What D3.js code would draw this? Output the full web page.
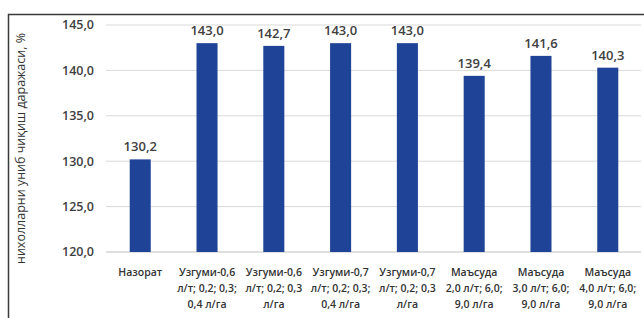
<!DOCTYPE html>
<html>
<head>
<meta charset="utf-8">
<script src="https://cdn.jsdelivr.net/npm/d3@7"></script>
<style>
  body { margin: 0; background: #fff; }
  svg { display: block; font-family: "Open Sans", sans-serif; }
</style>
</head>
<body>
<script>
// chart values
const categories = [
  ["Назорат"],
  ["Узгуми-0,6", "л/т; 0,2; 0,3;", "0,4 л/га"],
  ["Узгуми-0,6", "л/т; 0,2; 0,3", "л/га"],
  ["Узгуми-0,7", "л/т; 0,2; 0,3;", "0,4 л/га"],
  ["Узгуми-0,7", "л/т; 0,2; 0,3", "л/га"],
  ["Маъсуда", "2,0 л/т; 6,0;", "9,0 л/га"],
  ["Маъсуда", "3,0 л/т; 6,0;", "9,0 л/га"],
  ["Маъсуда", "4,0 л/т; 6,0;", "9,0 л/га"]
];
const values = [130.2, 143.0, 142.7, 143.0, 143.0, 139.4, 141.6, 140.3];
const yTicks = [120, 125, 130, 135, 140, 145];
const yTitle = "нихолларни униб чиқиш даражаси, %";

const W = 644, H = 318;
const margin = {top: 25, right: 3, bottom: 66, left: 107};
const width = W - margin.left - margin.right,
      height = H - margin.top - margin.bottom;

const fmt = v => v.toFixed(1).replace(".", ",");

const svg = d3.select("body").append("svg")
    .attr("width", W)
    .attr("height", H);

// outer frame (cropped at right and bottom)
svg.append("rect")
    .attr("x", 8.5).attr("y", 14.5)
    .attr("width", 700).attr("height", 400)
    .attr("fill", "none")
    .attr("stroke", "#3a3a3a")
    .attr("stroke-width", 1.5);

const g = svg.append("g")
    .attr("transform", "translate(" + margin.left + "," + margin.top + ")");

const x = d3.scaleBand()
    .domain(d3.range(categories.length))
    .range([0, width])
    .paddingInner(0.685)
    .paddingOuter(0.34);

const y = d3.scaleLinear()
    .domain([120, 145])
    .range([height, 0]);

// gridlines
g.selectAll(".grid")
    .data(yTicks)
  .enter().append("line")
    .attr("x1", -1).attr("x2", width)
    .attr("y1", d => y(d)).attr("y2", d => y(d))
    .attr("stroke", d => d === 120 ? "#bfbfbf" : "#d9d9d9")
    .attr("stroke-width", 1);

// y tick labels
g.selectAll(".ytick")
    .data(yTicks)
  .enter().append("text")
    .attr("x", -13)
    .attr("y", d => y(d))
    .attr("dy", "0.35em")
    .attr("text-anchor", "end")
    .attr("font-size", 12.5)
    .attr("font-weight", 600)
    .attr("fill", "#404040")
    .text(fmt);

// bars
g.selectAll(".bar")
    .data(values)
  .enter().append("rect")
    .attr("x", (d, i) => x(i))
    .attr("width", x.bandwidth())
    .attr("y", d => y(d))
    .attr("height", d => height - y(d))
    .attr("fill", "#1f4497");

// value labels
g.selectAll(".val")
    .data(values)
  .enter().append("text")
    .attr("x", (d, i) => x(i) + x.bandwidth() / 2)
    .attr("y", d => y(d) - 8)
    .attr("text-anchor", "middle")
    .attr("font-size", 13)
    .attr("font-weight", 600)
    .attr("fill", "#404040")
    .text(fmt);

// category labels
const cat = g.selectAll(".cat")
    .data(categories)
  .enter().append("text")
    .attr("text-anchor", "middle")
    .attr("font-size", 10.5)
    .attr("font-weight", 600)
    .attr("fill", "#333")
    .attr("transform", (d, i) => "translate(" + (x(i) + x.bandwidth() / 2) + "," + (height + 24) + ")");

cat.selectAll("tspan")
    .data(d => d)
  .enter().append("tspan")
    .attr("x", 0)
    .attr("y", (d, i) => i * 16)
    .text(d => d);

// y axis title
svg.append("text")
    .attr("transform", "translate(25," + (margin.top + height / 2 + 10) + ") rotate(-90)")
    .attr("text-anchor", "middle")
    .attr("font-size", 12.5)
    .attr("fill", "#333")
    .text(yTitle);
</script>
</body>
</html>
